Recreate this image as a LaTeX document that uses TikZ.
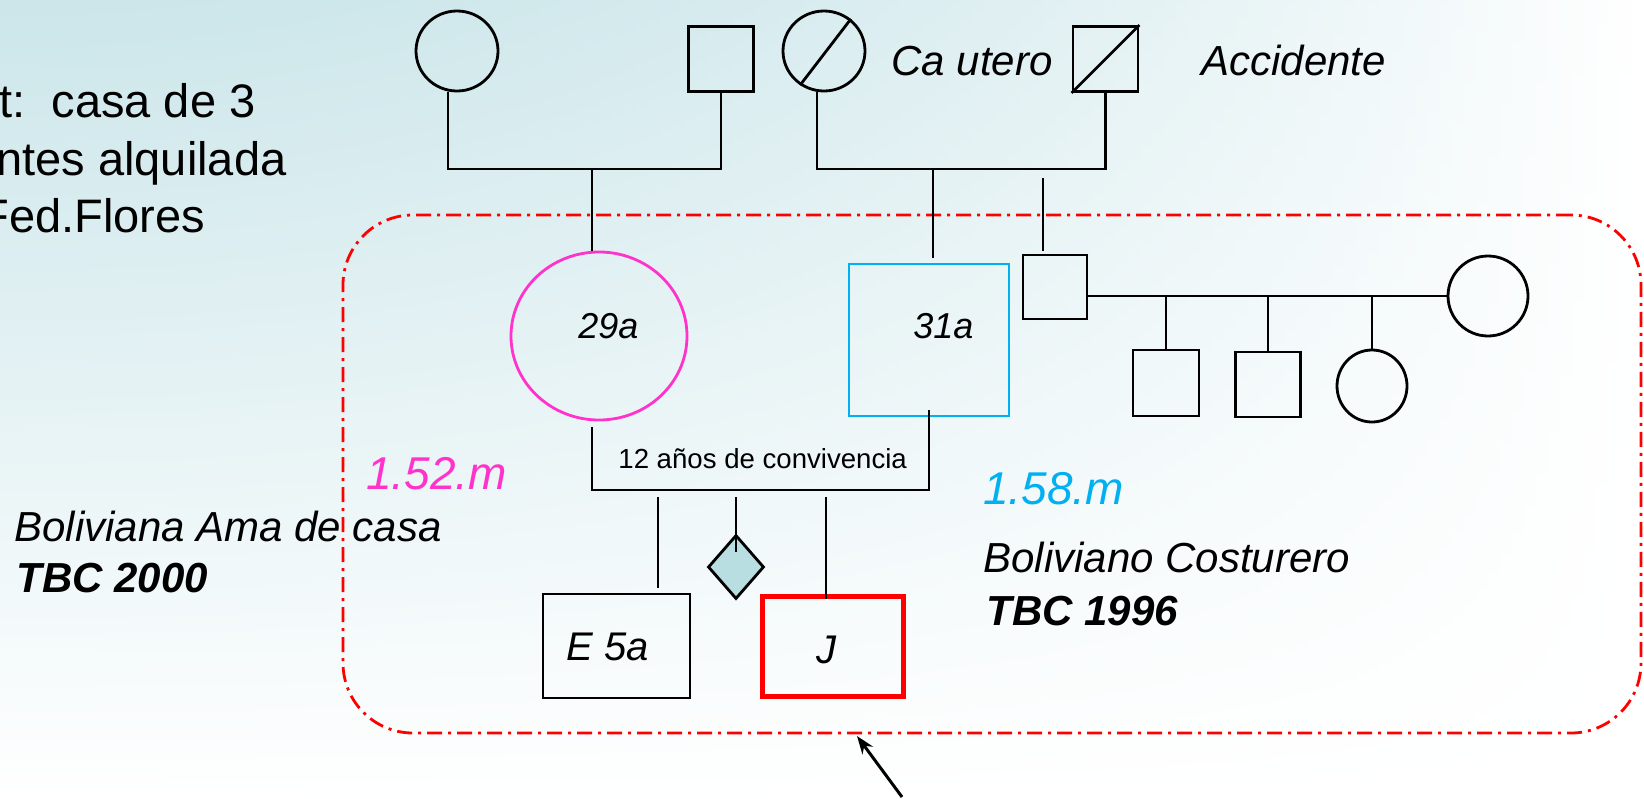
\documentclass[tikz,border=0pt]{standalone}
\usepackage{fontspec}
\setmainfont{Liberation Sans}
\usetikzlibrary{shapes.geometric,arrows.meta}
\definecolor{momcol}{RGB}{255,51,204}
\definecolor{dadcol}{RGB}{0,176,240}
\definecolor{idxred}{RGB}{255,0,0}
\definecolor{diafill}{RGB}{184,222,226}
\begin{document}
\begin{tikzpicture}[x=0.5pt,y=-0.5pt,
  ped/.style={line width=1.4pt, draw=black},
  sq/.style={draw, line width=1.4pt, rectangle, inner sep=0pt},
  circ/.style={draw, line width=1.4pt, ellipse, inner sep=0pt},
  txt/.style={inner sep=0pt, anchor=base west},
  plainbig/.style={font=\fontsize{23.5pt}{28pt}\selectfont},
  note/.style={font=\fontsize{21pt}{25pt}\selectfont\itshape},
  notebold/.style={font=\fontsize{21pt}{25pt}\selectfont\bfseries\itshape},
  age/.style={font=\fontsize{18pt}{22pt}\selectfont\itshape},
  kid/.style={font=\fontsize{20pt}{24pt}\selectfont\itshape},
  height/.style={font=\fontsize{23pt}{28pt}\selectfont\itshape},
  small/.style={font=\fontsize{13.8pt}{16pt}\selectfont}
]
\useasboundingbox (0,0) rectangle (1644,798);
\clip (0,0) rectangle (1644,798);

% background: teal in the upper left corner fading to white
\foreach \i in {0,...,136}{
  \pgfmathsetmacro\wfrac{min(1,((\i+0.5)*12/1644)^2)}
  \pgfmathsetmacro\colR{(204+51*\wfrac)/255}
  \pgfmathsetmacro\colG{(230+25*\wfrac)/255}
  \pgfmathsetmacro\colB{(234+21*\wfrac)/255}
  \definecolor{coltop}{rgb}{\colR,\colG,\colB}
  \shade[top color=coltop, bottom color=white] (\i*12,0) rectangle (\i*12+13,798);
}

% housing notes on the left
\node[txt, plainbig] (h1) at (-1,117) {t:~~casa de 3};
\node[txt, plainbig] (h2) at (-4,175) {ntes alquilada};
\node[txt, plainbig] (h3) at (-20,232) {Fed.Flores};

% descriptions of the parents
\node[txt, note] (mDesc) at (14,541) {Boliviana Ama de casa};
\node[txt, notebold] (mTbc) at (16,592) {TBC 2000};
\node[txt, note] (fDesc) at (983,572) {Boliviano Costurero};
\node[txt, notebold] (fTbc) at (986,625) {TBC 1996};
\node[txt, height, text=momcol] (mHt) at (366,489) {1.52.m};
\node[txt, height, text=dadcol] (fHt) at (983,504) {1.58.m};

% household boundary
\node[draw=idxred, line width=1.4pt, dash pattern=on 7.5pt off 3pt on 1.5pt off 3pt,
      rounded corners=35pt, minimum width=649pt, minimum height=259pt, inner sep=0pt]
      (grp) at (992,474) {};

% grandparents
\node[circ, minimum width=41pt, minimum height=40pt] (A) at (457,51) {};
\node[sq, minimum width=32.5pt, minimum height=32.5pt] (B) at (721,59) {};
\node[circ, minimum width=41pt, minimum height=40pt] (C) at (824,51) {};
\node[sq, minimum width=32.5pt, minimum height=32.5pt] (D) at (1105.5,59) {};
\draw[ped] (C.235) -- (C.50);
\draw[ped] (D.south west) -- (D.north east);
\node[txt, note] (lblC) at (891,75) {Ca utero};
\node[txt, note] (lblD) at (1201,75) {Accidente};

\coordinate (jA) at (448,169);
\coordinate (jB) at (721,169);
\coordinate (jM) at (592,169);
\coordinate (jC) at (817,169);
\coordinate (jD) at (1105.5,169);
\coordinate (jF) at (933,169);
\coordinate (fTop) at (933,258);
\draw[ped] (A.south -| jA) -- (jA) -- (jB) -- (B.south);
\draw[ped] (C.south -| jC) -- (jC) -- (jD) -- (D.south);

% parents
\node[circ, draw=momcol, minimum width=88pt, minimum height=84pt] (M) at (599,336) {};
\node[sq, draw=dadcol, minimum width=80pt, minimum height=76pt] (F) at (929,340) {};
\node[txt, age] (lblM) at (578,338) {29a};
\node[txt, age] (lblF) at (913,338) {31a};
\draw[ped] (jM) -- (M.north -| jM);
\draw[ped] (jF) -- (fTop);

% father's other family
\coordinate (hTop) at (1043,178);
\coordinate (hBot) at (1043,251);
\draw[ped] (hTop) -- (hBot);
\node[sq, minimum width=32pt, minimum height=32pt] (H) at (1055,287) {};
\node[circ, minimum width=40pt, minimum height=40pt] (W) at (1488,296) {};
\draw[ped] (H.east |- W.west) -- (W.west);
\node[sq, minimum width=33pt, minimum height=33pt] (K1) at (1166,383) {};
\node[sq, minimum width=32.5pt, minimum height=32.5pt] (K2) at (1268,384.5) {};
\node[circ, minimum width=35pt, minimum height=36pt] (K3) at (1372,386) {};
\foreach \k in {K1,K2,K3} \draw[ped] (\k.north |- W.west) -- (\k.north);

% couple line
\coordinate (mB) at (592,427);
\coordinate (sib) at (929,490);
\coordinate (fB) at (929,410);
\draw[ped] (mB) |- (sib) -- (fB);
\node[txt, small] (lblCouple) at (618,468) {12 años de convivencia};

% children
\node[sq, minimum width=73.5pt, minimum height=52pt] (E) at (616.5,646) {};
\node[txt, kid] (lblE) at (566,660) {E 5a};
\node[sq, draw=idxred, line width=2.75pt, minimum width=70.5pt, minimum height=50pt] (J) at (833,646.5) {};
\node[txt, kid] (lblJ) at (816,663) {J};
\node[diamond, draw, line width=1.4pt, fill=diafill, minimum width=28pt, minimum height=32pt, inner sep=0pt] (X) at (736,567) {};
\coordinate (tE) at (658,497);
\coordinate (bE) at (658,588);
\coordinate (tX) at (736,497);
\coordinate (bX) at (736,552);
\coordinate (tJ) at (826,497);
\coordinate (bJ) at (826,599);
\draw[ped] (tE) -- (bE);
\draw[ped] (tX) -- (bX);
\draw[ped] (tJ) -- (bJ);

% index case pointer
\coordinate (arrTail) at (902,797);
\coordinate (arrTip) at (857,736);
\draw[line width=1.5pt, -{Stealth[length=9pt, width=6.5pt]}] (arrTail) -- (arrTip);
\end{tikzpicture}
\end{document}
